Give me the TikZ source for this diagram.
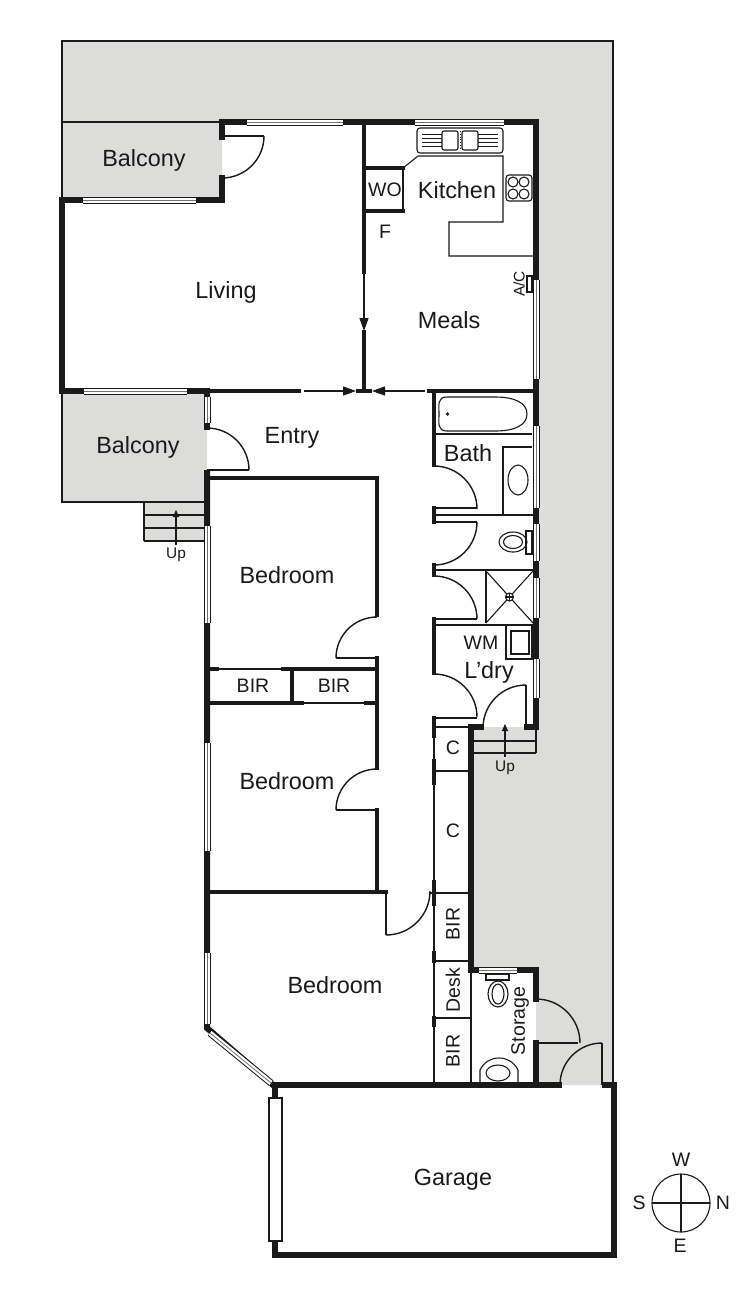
\documentclass[tikz,border=0pt]{standalone}
\usepackage{fontspec}
\setmainfont{Liberation Sans}
\usetikzlibrary{arrows.meta}
\definecolor{ink}{HTML}{1A1A1A}
\definecolor{yard}{HTML}{DCDCDB}
\tikzset{
  heavywall/.style={draw=ink, line width=6pt, line cap=rect, miter limit=10},
  midwall/.style={draw=ink, line width=3.6pt, line cap=rect},
  thinwall/.style={draw=ink, line width=2.4pt},
  fitting/.style={draw=ink, line width=1.1pt},
  drain/.style={draw=ink, line width=.8pt},
  swing/.style={draw=ink, line width=1.4pt},
  glass/.style={draw=black!55, line width=.8pt, preaction={draw=ink, line width=7pt}, preaction={draw=white, line width=5pt}},
  pass/.style={draw=ink, line width=1.2pt, -{Triangle[length=13pt,width=9pt]}},
  climb/.style={draw=ink, line width=1.1pt, -{Triangle[length=7pt,width=6pt]}},
  room/.style={text=ink, inner sep=0pt, font=\fontsize{23.4}{24}\selectfont},
  small/.style={text=ink, inner sep=0pt, font=\fontsize{19.5}{20}\selectfont},
  tiny/.style={text=ink, inner sep=0pt, font=\fontsize{15.4}{16}\selectfont}
}
\begin{document}
\begin{tikzpicture}[x=1pt,y=-1pt]
\useasboundingbox[fill=white] (0,0) rectangle (750,1293);
% grey outside areas
\fill[yard] (62,41) -- (613,41) -- (613,1085) -- (536,1085) -- (536,970) -- (471,970) -- (471,727) -- (536,727) -- (536,122) -- (222,122) -- (222,200) -- (62,200) -- cycle;
\fill[yard] (62,391) -- (207,391) -- (207,502) -- (205,502) -- (205,541) -- (144,541) -- (144,502) -- (62,502) -- cycle;
% boundary lines
\draw[thinwall] (62,122) -- (62,41) -- (613,41) -- (613,1085);
\draw[thinwall] (62,122) -- (222,122);
\draw[thinwall] (62,200) -- (62,122);
\draw[thinwall] (62,391) -- (62,502) -- (144,502);
% outer walls
\draw[heavywall] (222,137) -- (222,122) -- (536,122) -- (536,391);
\draw[heavywall] (222,178) -- (222,200) -- (62,200) -- (62,391) -- (207,391) -- (207,396);
\draw[heavywall] (207,426) -- (207,427);
\draw[heavywall] (207,473) -- (207,1028) -- (273,1085);
\draw[heavywall] (536,391) -- (536,727) -- (527,727);
\draw[heavywall] (471,727) -- (481,727);
\draw[heavywall] (471,727) -- (471,970) -- (536,970) -- (536,999);
\draw[heavywall] (536,1043) -- (536,1085);
\draw[heavywall] (275,1085) -- (559,1085);
\draw[heavywall] (605,1085) -- (614,1085) -- (614,1255) -- (275,1255) -- (275,1085);
% inner walls
\draw[midwall] (364,122) -- (364,272);
\draw[midwall] (364,332) -- (364,391);
\draw[midwall] (207,391) -- (299,391);
\draw[midwall] (358,391) -- (370,391);
\draw[midwall] (429,391) -- (536,391);
\draw[midwall] (364,168) -- (403,168);
\draw[midwall] (364,211) -- (403,211);
\draw[thinwall] (403,168) -- (403,211);
\draw[midwall] (207,478) -- (377,478) -- (377,615);
\draw[midwall] (377,658) -- (377,768);
\draw[midwall] (377,810) -- (377,892) -- (207,892);
\draw[midwall] (377,892) -- (386,892);
\draw[thinwall] (386,892) -- (386,935);
\draw[thinwall] (336,658) -- (377,658);
\draw[thinwall] (336,810) -- (377,810);
\draw[midwall] (207,669) -- (217,669);
\draw[fitting] (217,669) -- (283,669);
\draw[midwall] (283,669) -- (377,669);
\draw[midwall] (207,703) -- (302,703);
\draw[fitting] (302,703) -- (366,703);
\draw[midwall] (366,703) -- (377,703);
\draw[midwall] (292,669) -- (292,703);
% bath and laundry side
\draw[midwall] (434,391) -- (434,465);
\draw[midwall] (434,508) -- (434,522);
\draw[midwall] (434,565) -- (434,575);
\draw[midwall] (434,619) -- (434,673);
\draw[midwall] (434,718) -- (434,736);
\draw[thinwall] (434,515) -- (536,515);
\draw[thinwall] (434,570) -- (536,570);
\draw[thinwall] (434,625) -- (536,625);
\draw[thinwall] (434,508) -- (477,508);
\draw[thinwall] (434,522) -- (477,522);
\draw[thinwall] (434,619) -- (477,619);
\draw[thinwall] (434,718) -- (477,718);
\draw[thinwall] (526,685) -- (526,728);
\draw[thinwall] (434,727) -- (471,727);
% cupboards
\draw[fitting] (434,735) -- (434,1085);
\draw[midwall] (434,761) -- (434,783);
\draw[midwall] (434,882) -- (434,904);
\draw[midwall] (434,953) -- (434,961);
\draw[midwall] (434,1018) -- (434,1025);
\draw[thinwall] (434,771) -- (471,771);
\draw[thinwall] (430,893) -- (471,893);
\draw[thinwall] (434,961) -- (471,961);
\draw[thinwall] (434,1018) -- (471,1018);
\draw[thinwall] (471,970) -- (471,1085);
\draw[thinwall] (536,1043) -- (578,1043);
\draw[thinwall] (602,1043) -- (602,1085);
% windows
\draw[glass] (247,122) -- (295,122);
\draw[glass] (295,122) -- (343,122);
\draw[glass] (415,122) -- (459,122);
\draw[glass] (459,122) -- (504,122);
\draw[glass] (83,200) -- (196,200);
\draw[glass] (84,391) -- (187,391);
\draw[glass] (207,397) -- (207,423);
\draw[glass] (207,526) -- (207,623);
\draw[glass] (207,743) -- (207,851);
\draw[glass] (207,953) -- (207,1024);
\draw[glass] (210,1033) -- (271,1083);
\draw[glass] (536,280) -- (536,379);
\draw[glass] (536,426) -- (536,508);
\draw[glass] (536,524) -- (536,561);
\draw[glass] (536,578) -- (536,618);
\draw[glass] (536,659) -- (536,698);
\draw[glass] (479,970) -- (517,970);
\draw[draw=ink, fill=white, line width=1.2pt] (269,1098) rectangle (282,1241);
% door swings
\draw[thinwall] (222,136) -- (264,136);
\draw[swing] (264,136) arc (0:90:42);
\draw[thinwall] (207,470) -- (249,470);
\draw[swing] (249,470) arc (0:-90:42);
\draw[swing] (336,658) arc (180:270:41);
\draw[swing] (336,810) arc (180:270:41);
\draw[swing] (386,935) arc (90:0:44);
\draw[swing] (434,466) arc (-90:0:43);
\draw[swing] (477,522) arc (0:90:43);
\draw[swing] (434,576) arc (-90:0:43);
\draw[swing] (434,674) arc (-90:0:43);
\draw[swing] (526,685) arc (-90:-180:43);
\draw[swing] (536,999) arc (-90:0:44);
\draw[swing] (602,1043) arc (-90:-180:42);
% passage arrows
\draw[pass] (364,272) -- (364,331);
\draw[pass] (304,391) -- (356,391);
\draw[pass] (425,391) -- (372,391);
% steps
\draw[fitting] (144,502) -- (205,502);
\draw[fitting] (144,515) -- (205,515);
\draw[fitting] (144,528) -- (205,528);
\draw[fitting] (144,541) -- (205,541);
\draw[fitting] (144,502) -- (144,541);
\draw[climb] (176,545) -- (176,510);
\draw[fitting] (473,741) -- (536,741);
\draw[fitting] (473,753) -- (536,753);
\draw[fitting] (536,729) -- (536,753);
\draw[climb] (505,757) -- (505,724);
% kitchen fittings
\draw[fitting] (403,168) -- (418,156) -- (503,156) -- (503,222) -- (449,222) -- (449,256) -- (533,256);
\draw[fitting, rounded corners=3pt] (417,128) rectangle (503,153);
\draw[fitting, rounded corners=2pt] (442,131) rectangle (458,150);
\draw[fitting, rounded corners=2pt] (462,131) rectangle (478,150);
\draw[drain] (422,134) -- (442,134);
\draw[drain] (422,138) -- (442,138);
\draw[drain] (422,142) -- (442,142);
\draw[drain] (422,146) -- (442,146);
\draw[drain] (478,134) -- (498,134);
\draw[drain] (478,138) -- (498,138);
\draw[drain] (478,142) -- (498,142);
\draw[drain] (478,146) -- (498,146);
\draw[drain, dotted] (460,131) -- (460,150);
\draw[fitting, rounded corners=3pt] (506,175) rectangle (532,201);
\draw[fitting] (513,182) circle (5);
\draw[fitting] (524,182) circle (5);
\draw[fitting] (513,194) circle (5);
\draw[fitting] (524,194) circle (5);
\draw[fitting] (527,276) rectangle (532,292);
% bath fittings
\draw[fitting] (447,397) .. controls (437,397) and (439,405) .. (439,414) .. controls (439,423) and (437,431) .. (447,431) -- (495,431) .. controls (515,431) and (527,425) .. (527,414) .. controls (527,403) and (515,397) .. (495,397) -- cycle;
\fill[ink] (447.5,414) circle (1.8);
\draw[fitting] (434,434) -- (532,434);
\draw[fitting] (503,515) -- (503,447) -- (532,447);
\draw[fitting] (518,480) ellipse (10 and 15);
\draw[fitting] (526,531) rectangle (532,554);
\draw[fitting] (513,542) ellipse (14 and 10);
\draw[fitting] (513,542) ellipse (9.5 and 6.5);
\draw[fitting] (486,571) -- (486,623);
\draw[fitting] (486,571) -- (533,623);
\draw[fitting] (533,571) -- (486,623);
\draw[fitting, fill=white] (509.5,597) circle (4);
\draw[fitting] (505.5,597) -- (513.5,597);
\draw[fitting] (509.5,593) -- (509.5,601);
\draw[fitting] (506,625) rectangle (532,659);
\draw[fitting] (511,631) rectangle (529,654);
% storage fittings
\draw[fitting] (486,974) rectangle (509,980);
\draw[fitting] (498,994) ellipse (10 and 13);
\draw[fitting] (498,994) ellipse (6 and 10);
\draw[fitting] (480,1082) -- (480,1070) .. controls (484,1062) and (491,1058) .. (499,1058) .. controls (507,1058) and (514,1062) .. (518,1070) -- (518,1082);
\draw[fitting] (498,1073) ellipse (12 and 8);
% compass
\draw[fitting] (681,1203) circle (29);
\draw[fitting] (681,1174) -- (681,1232);
\draw[fitting] (652,1203) -- (681,1203);
\draw[draw=ink, line width=2.6pt] (681,1203) -- (710,1203);
% labels
\node[room] (balconytop) at (144,160) {Balcony};
\node[room] (balconylow) at (138,447) {Balcony};
\node[room] (living) at (226,292) {Living};
\node[room] (kitchen) at (457,190) {Kitchen};
\node[room] (meals) at (449,320) {Meals};
\node[room] (entry) at (292,438) {Entry};
\node[room] (bath) at (468,453) {Bath};
\node[room] (bedone) at (287,575) {Bedroom};
\node[room] (bedtwo) at (287,781) {Bedroom};
\node[room] (bedthree) at (335,985) {Bedroom};
\node[room] (ldry) at (489,672) {L’dry};
\node[room] (garage) at (453,1180) {Garage};
\node[small] (wo) at (385,190) {WO};
\node[small] (f) at (385,232) {F};
\node[small] (wm) at (481,643) {WM};
\node[small] (birone) at (253,686) {BIR};
\node[small] (birtwo) at (334,686) {BIR};
\node[small] (cone) at (453,748) {C};
\node[small] (ctwo) at (453,831) {C};
\node[small, rotate=90] (birthree) at (453,924) {BIR};
\node[small, rotate=90] (desk) at (453,990) {Desk};
\node[small, rotate=90] (birfour) at (453,1051) {BIR};
\node[small, rotate=90] (storage) at (520,1021) {Storage};
\node[tiny, rotate=90] (ac) at (519,284) {A/C};
\node[tiny] (upone) at (176,555) {Up};
\node[tiny] (uptwo) at (505,768) {Up};
\node[small] (west) at (681,1160) {W};
\node[small] (south) at (639,1203) {S};
\node[small] (north) at (723,1203) {N};
\node[small] (east) at (680,1246) {E};
\end{tikzpicture}
\end{document}
